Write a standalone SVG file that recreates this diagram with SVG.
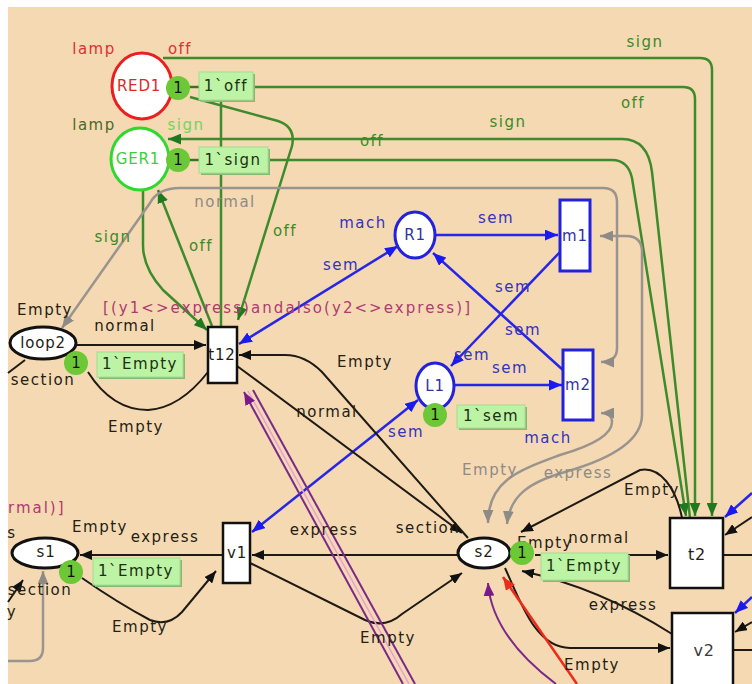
<svg xmlns="http://www.w3.org/2000/svg" width="752" height="684" viewBox="0 0 752 684">
<style>
text{font-family:"DejaVu Sans","Liberation Sans",sans-serif;font-size:15px;letter-spacing:1.5px;text-anchor:middle;dominant-baseline:central}
.arc{fill:none;stroke-width:2}
.k{stroke:#1e1a14}
.gn{stroke:#3d8b2b;stroke-width:2.5}
.bl{stroke:#2626e6;stroke-width:2.5}
.gy{stroke:#9a948e;stroke-width:2.5}
.pu{stroke:#7a2a88;stroke-width:2}
.pk{stroke:#e6a0d2;stroke-width:1.5}
.rd{stroke:#ee2a1a;stroke-width:2.5}
.lk{fill:#241e14}.lg{fill:#3a8a28}.lb{fill:#3434bc}.ly{fill:#8e8a86}.lp{fill:#b03a72}.lr{fill:#e03030}
.pl{fill:#fff;stroke:#111;stroke-width:3}
.tr{fill:#fff;stroke:#111;stroke-width:2.5}
.bp{fill:#fff;stroke:#2222dd;stroke-width:3}
.tok{fill:#6cc836}
.tok-t{fill:#111;letter-spacing:0}
.mk{fill:#bdf3a5;stroke:#a6dc92;stroke-width:1}
.mk-s{fill:#88b874}
.mk-t{fill:#1c3010}
.nm{letter-spacing:0.8px}
</style>
<defs>
<marker id="ak" viewBox="0 0 12 10" refX="12" refY="5" markerWidth="12" markerHeight="10" markerUnits="userSpaceOnUse" orient="auto-start-reverse"><path d="M0,0 L12,5 L0,10 z" fill="#111"/></marker>
<marker id="ag" viewBox="0 0 12 10" refX="12" refY="5" markerWidth="13" markerHeight="11" markerUnits="userSpaceOnUse" orient="auto-start-reverse"><path d="M0,0 L12,5 L0,10 z" fill="#1f7a1f"/></marker>
<marker id="ab" viewBox="0 0 12 10" refX="12" refY="5" markerWidth="13" markerHeight="11" markerUnits="userSpaceOnUse" orient="auto-start-reverse"><path d="M0,0 L12,5 L0,10 z" fill="#1a1aee"/></marker>
<marker id="ay" viewBox="0 0 12 10" refX="12" refY="5" markerWidth="13" markerHeight="11" markerUnits="userSpaceOnUse" orient="auto-start-reverse"><path d="M0,0 L12,5 L0,10 z" fill="#8e8a86"/></marker>
<marker id="ap" viewBox="0 0 12 10" refX="12" refY="5" markerWidth="13" markerHeight="11" markerUnits="userSpaceOnUse" orient="auto-start-reverse"><path d="M0,0 L12,5 L0,10 z" fill="#7a1a8a"/></marker>
<marker id="ar" viewBox="0 0 12 10" refX="12" refY="5" markerWidth="13" markerHeight="11" markerUnits="userSpaceOnUse" orient="auto-start-reverse"><path d="M0,0 L12,5 L0,10 z" fill="#ee2a1a"/></marker>
</defs>

<rect x="0" y="0" width="752" height="684" fill="#fff"/>
<rect x="8" y="7" width="744" height="677" fill="#f5d9b3"/>

<!-- arcs -->
<g id="arcs" class="arc">
  <!-- lamp arcs -->
  <path class="gn" d="M163,58 H700 Q712,58 712,70 V516" marker-end="url(#ag)"/>
  <path class="gn" d="M172,87 H683 Q695,87 695,99 V516" marker-end="url(#ag)"/>
  <path class="gn" d="M690,518 L652,172 Q648,139 622,139 H168" marker-end="url(#ag)"/>
  <path class="gn" d="M170,160 H612 Q628,160 632,178 L686,516" marker-end="url(#ag)"/>
  <path class="gn" d="M143,189 V245 Q143,268 163,290 L207,330" marker-end="url(#ag)"/>
  <path class="gn" d="M212,326 L158,190" marker-end="url(#ag)"/>
  <path class="gn" d="M221,100 V327"/>
  <path class="gn" d="M190,97 L278,121 Q296,127 292,146 L238,320" marker-end="url(#ag)"/>

  <!-- machine / semaphore arcs -->
  <path class="gy" d="M62,328 L150,203 Q158,188 180,188 H603 Q617,188 617,202 V348 Q617,362 601,362" marker-start="url(#ay)" marker-end="url(#ay)"/>
  <path class="gy" d="M507,524 C510,495 530,482 565,472 Q642,450 642,415 V252 Q642,236 626,236 H600" marker-start="url(#ay)" marker-end="url(#ay)"/>
  <path class="gy" d="M488,523 C488,480 520,470 560,455 Q612,440 612,422 Q612,413 601,413" marker-start="url(#ay)" marker-end="url(#ay)"/>
  <path class="gy" d="M43,571 V648 Q43,661 30,661 H8" marker-start="url(#ay)"/>

  <path class="bl" d="M435,235 H558" marker-end="url(#ab)"/>
  <path class="bl" d="M560,252 L451,366" marker-end="url(#ab)"/>
  <path class="bl" d="M563,370 L433,253" marker-end="url(#ab)"/>
  <path class="bl" d="M455,385 H562" marker-end="url(#ab)"/>
  <path class="bl" d="M398,246 L239,344" marker-start="url(#ab)" marker-end="url(#ab)"/>
  <path class="bl" d="M418,400 L252,532" marker-start="url(#ab)" marker-end="url(#ab)"/>
  <path class="bl" d="M752,493 L725,517" marker-end="url(#ab)"/>
  <path class="bl" d="M752,597 L735,613" marker-end="url(#ab)"/>

  <!-- section arcs -->
  <path class="k" d="M77,345 H206" marker-end="url(#ak)"/>
  <path class="k" d="M208,372 Q180,408 148,410 Q112,410 88,372"/>
  <path class="k" d="M468,538 L322,372 Q305,355 285,355 H239" marker-end="url(#ak)"/>
  <path class="k" d="M237,366 L462,533" marker-end="url(#ak)"/>
  <path class="k" d="M458,555 H252" marker-end="url(#ak)"/>
  <path class="k" d="M250,563 L365,620 Q385,629 402,614 L462,573" marker-end="url(#ak)"/>
  <path class="k" d="M535,555 H668" marker-end="url(#ak)"/>
  <path class="k" d="M682,518 C676,488 660,466 640,470 L521,532" marker-end="url(#ak)"/>
  <path class="k" d="M672,634 Q600,588 522,571" marker-end="url(#ak)"/>
  <path class="k" d="M505,568 C520,600 535,648 570,648 H670" marker-end="url(#ak)"/>
  <path class="k" d="M223,555 H80" marker-end="url(#ak)"/>
  <path class="k" d="M82,578 Q118,603 150,620 Q168,627 182,612 L216,571" marker-end="url(#ak)"/>
  <path class="k" d="M8,602 L23,580" marker-end="url(#ak)"/>
  <path class="k" d="M25,360 L8,373"/>
  <path class="k" d="M752,517 L725,535" marker-end="url(#ak)"/>
  <path class="k" d="M752,622 L735,632" marker-end="url(#ak)"/>
  <path class="k" d="M723,555 H752"/>
  <path class="k" d="M733,650 H752"/>

  <path class="pu" d="M415,684 L253,390"/>
  <path class="pk" d="M409,684 L248,391"/>
  <path class="pu" d="M403,684 L244,392" marker-end="url(#ap)"/>
  <path class="pu" d="M556,684 Q492,636 488,583" marker-end="url(#ap)"/>
  <path class="rd" d="M577,684 L503,577" marker-end="url(#ar)"/>
</g>

<!-- arc inscriptions -->
<g id="inscriptions">
  <text class="lg" x="645" y="42">sign</text>
  <text class="lg" x="633" y="103">off</text>
  <text class="lg" x="508" y="122">sign</text>
  <text class="lg" x="372" y="141">off</text>
  <text class="lg" x="113" y="237">sign</text>
  <text class="lg" x="201" y="246">off</text>
  <text class="lg" x="285" y="231">off</text>

  <text class="ly" x="225" y="202">normal</text>
  <text class="ly" x="490" y="470">Empty</text>
  <text class="ly" x="578" y="473">express</text>

  <text class="lb" x="363" y="223">mach</text>
  <text class="lb" x="496" y="218">sem</text>
  <text class="lb" x="513" y="287">sem</text>
  <text class="lb" x="523" y="330">sem</text>
  <text class="lb" x="472" y="355">sem</text>
  <text class="lb" x="510" y="368">sem</text>
  <text class="lb" x="341" y="265">sem</text>
  <text class="lb" x="406" y="432">sem</text>
  <text class="lb" x="548" y="438">mach</text>

  <text class="lk" x="45" y="310">Empty</text>
  <text class="lk" x="125" y="326">normal</text>
  <text class="lk" x="43" y="380">section</text>
  <text class="lk" x="136" y="427">Empty</text>
  <text class="lk" x="365" y="362">Empty</text>
  <text class="lk" x="327" y="412">normal</text>
  <text class="lk" x="428" y="528">section</text>
  <text class="lk" x="545" y="543">Empty</text>
  <text class="lk" x="599" y="538">normal</text>
  <text class="lk" x="652" y="490">Empty</text>
  <text class="lk" x="623" y="605">express</text>
  <text class="lk" x="592" y="665">Empty</text>
  <text class="lk" x="388" y="638">Empty</text>
  <text class="lk" x="324" y="530">express</text>
  <text class="lk" x="100" y="527">Empty</text>
  <text class="lk" x="165" y="537">express</text>
  <text class="lk" x="140" y="627">Empty</text>
  <text class="lk" x="40" y="590">section</text>
  <text class="lk" x="12" y="533">s</text>
  <text class="lk" x="12" y="612">y</text>

  <text class="lp" x="103" y="308" style="text-anchor:start;letter-spacing:0" textLength="367" lengthAdjust="spacing">[(y1&lt;&gt;express)andalso(y2&lt;&gt;express)]</text>
  <text class="lp" x="8" y="508" style="text-anchor:start" textLength="57" lengthAdjust="spacing">rmal)]</text>
</g>

<!-- places and transitions -->
<g id="RED1">
  <text class="lr" x="94" y="49">lamp</text>
  <text class="lr" x="180" y="49">off</text>
  <ellipse cx="142" cy="86" rx="30" ry="33" fill="#fff" stroke="#e82020" stroke-width="3"/>
  <text class="nm" x="139" y="86" fill="#e02828">RED1</text>
  <line x1="188" y1="87" x2="200" y2="87" stroke="#3a6a2a" stroke-width="1.5"/>
  <circle class="tok" cx="178" cy="88" r="12"/>
  <text class="tok-t" x="178" y="88">1</text>
  <rect class="mk-s" x="201" y="74" width="54" height="28"/>
  <rect class="mk" x="199" y="72" width="54" height="28"/>
  <text class="mk-t" x="226" y="86">1`off</text>
</g>

<g id="GER1">
  <text x="94" y="125" fill="#4a6a28">lamp</text>
  <text x="186" y="125" fill="#6cd85a">sign</text>
  <ellipse cx="140" cy="159" rx="29" ry="31" fill="#fff" stroke="#2ed82e" stroke-width="3"/>
  <text class="nm" x="138" y="159" fill="#3ad03a">GER1</text>
  <line x1="188" y1="160" x2="200" y2="160" stroke="#3a6a2a" stroke-width="1.5"/>
  <circle class="tok" cx="178" cy="160" r="12"/>
  <text class="tok-t" x="178" y="160">1</text>
  <rect class="mk-s" x="201" y="149" width="69" height="26"/>
  <rect class="mk" x="199" y="147" width="69" height="26"/>
  <text class="mk-t" x="233" y="160">1`sign</text>
</g>

<g id="loop2">
  <ellipse class="pl" cx="43" cy="343" rx="33" ry="16"/>
  <text class="lk nm" x="43" y="343">loop2</text>
  <circle class="tok" cx="76" cy="363" r="12"/>
  <text class="tok-t" x="76" y="363">1</text>
  <rect class="mk-s" x="99" y="354" width="86" height="25"/>
  <rect class="mk" x="97" y="352" width="86" height="25"/>
  <text class="mk-t" x="140" y="364">1`Empty</text>
</g>

<g id="t12">
  <rect class="tr" x="208" y="327" width="29" height="56"/>
  <text class="lk nm" x="222" y="355">t12</text>
</g>

<g id="R1">
  <ellipse class="bp" cx="415" cy="235" rx="20" ry="23"/>
  <text class="nm" x="415" y="235" fill="#3232a0">R1</text>
</g>

<g id="L1">
  <ellipse class="bp" cx="435" cy="386" rx="19" ry="23"/>
  <text class="nm" x="435" y="386" fill="#3232a0">L1</text>
  <circle class="tok" cx="435" cy="415" r="12"/>
  <text class="tok-t" x="435" y="415">1</text>
  <rect class="mk-s" x="459" y="407" width="68" height="23"/>
  <rect class="mk" x="457" y="405" width="68" height="23"/>
  <text class="mk-t" x="491" y="416">1`sem</text>
</g>

<g id="m1">
  <rect class="bp" x="560" y="200" width="30" height="71"/>
  <text class="nm" x="575" y="236" fill="#3232a0">m1</text>
</g>

<g id="m2">
  <rect class="bp" x="563" y="350" width="30" height="70"/>
  <text class="nm" x="578" y="385" fill="#3232a0">m2</text>
</g>

<g id="s1">
  <ellipse class="pl" cx="45" cy="553" rx="33" ry="15"/>
  <text class="lk nm" x="46" y="552">s1</text>
  <circle class="tok" cx="71" cy="572" r="12"/>
  <text class="tok-t" x="71" y="572">1</text>
  <rect class="mk-s" x="95" y="560" width="87" height="27"/>
  <rect class="mk" x="93" y="558" width="87" height="27"/>
  <text class="mk-t" x="136" y="571">1`Empty</text>
</g>

<g id="v1">
  <rect class="tr" x="223" y="523" width="27" height="60"/>
  <text class="lk nm" x="237" y="553">v1</text>
</g>

<g id="s2">
  <ellipse class="pl" cx="484" cy="553" rx="26" ry="15"/>
  <text class="lk nm" x="484" y="552">s2</text>
  <circle class="tok" cx="522" cy="553" r="12"/>
  <text class="tok-t" x="522" y="553">1</text>
  <rect class="mk-s" x="543" y="555" width="87" height="27"/>
  <rect class="mk" x="541" y="553" width="87" height="27"/>
  <text class="mk-t" x="584" y="566">1`Empty</text>
</g>

<g id="t2">
  <rect class="tr" x="670" y="518" width="53" height="70"/>
  <text class="lk nm" x="697" y="554" style="font-size:16px">t2</text>
</g>

<g id="v2">
  <rect class="tr" x="672" y="613" width="61" height="80"/>
  <text class="nm" x="704" y="650" fill="#3a3a3a" style="font-size:16px">v2</text>
</g>
</svg>
